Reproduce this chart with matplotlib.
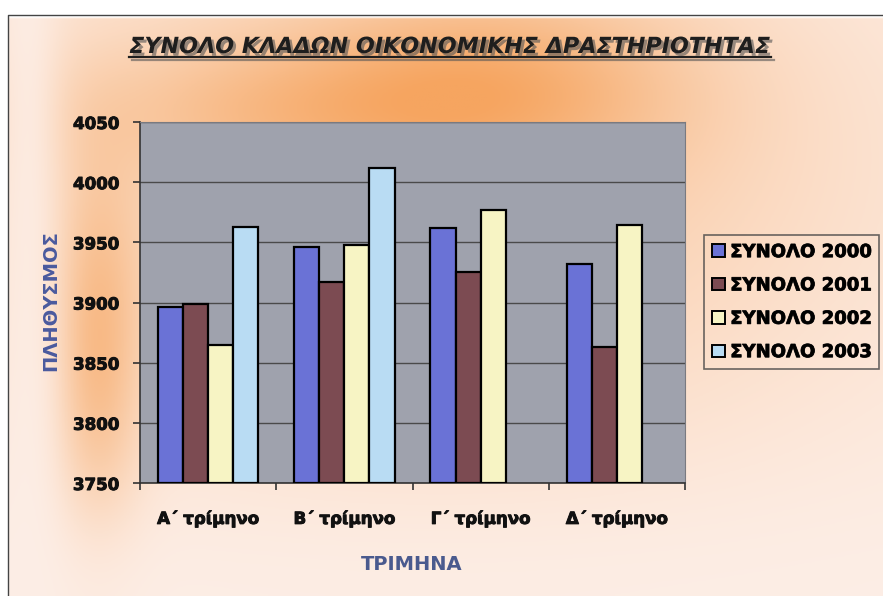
import numpy as np
import matplotlib.pyplot as plt
import matplotlib.patheffects as pe
from matplotlib.patches import Patch
from matplotlib.lines import Line2D
from matplotlib.colors import to_rgb

quarters = ["Α΄ τρίμηνο", "Β΄ τρίμηνο", "Γ΄ τρίμηνο", "Δ΄ τρίμηνο"]
series = ["ΣΥΝΟΛΟ 2000", "ΣΥΝΟΛΟ 2001", "ΣΥΝΟΛΟ 2002", "ΣΥΝΟΛΟ 2003"]
total_2000 = [3896, 3946, 3962, 3932]
total_2001 = [3899, 3917, 3925, 3863]
total_2002 = [3865, 3948, 3977, 3964]
total_2003 = [3963, 4012, np.nan, np.nan]
yticks = [3750, 3800, 3850, 3900, 3950, 4000, 4050]

colors = ["#6a72d6", "#7c4b52", "#f7f4c4", "#b9dcf3"]

plt.rcParams['font.family'] = ['DejaVu Sans']

fig = plt.figure(figsize=(8.83, 5.96), dpi=100)

# warm gradient background
W, H = 300, 200
gx, gy = np.meshgrid(np.linspace(0, 1, W), np.linspace(0, 1, H))
base = np.array(to_rgb("#fdeee6"))
orange = np.array(to_rgb("#f6a560"))
t = 0.45 * np.exp(-(((gx - 0.5) / 0.5) ** 2 + ((gy - 0.3) / 0.45) ** 2))
t += 0.5 * np.exp(-(((gx - 0.56) / 0.22) ** 2 + ((gy - 0.14) / 0.16) ** 2))
t += 0.3 * np.exp(-(((gx - 0.3) / 0.25) ** 2 + ((gy - 0.18) / 0.12) ** 2))
t += 0.55 * np.exp(-(((gx - 0.11) / 0.05) ** 2 + ((gy - 0.6) / 0.3) ** 2))
t *= 1 - 0.8 * np.exp(-((gx - 0.03) / 0.035) ** 2)
t *= 1 - 0.6 * np.exp(-((gy - 1.0) / 0.14) ** 2)
t = np.clip(t, 0, 1)[..., None]
img = base * (1 - t) + orange * t
img[gy < 15 / 596] = 1.0
img[gx < 8 / 883] = 1.0
bg = fig.add_axes([0, 0, 1, 1], zorder=-5)
bg.imshow(img, aspect='auto', extent=[0, 1, 0, 1], origin='upper')
bg.plot([8 / 883, 8 / 883, 1], [0, 1 - 15 / 596, 1 - 15 / 596], color='#444444', lw=1)
bg.set_xlim(0, 1)
bg.set_ylim(0, 1)
bg.axis('off')

ax = fig.add_axes([140 / 883, 1 - 483 / 596, 545 / 883, 361 / 596])
ax.set_facecolor("#9fa2ad")

x = np.arange(len(quarters))
w = 0.184
data = [total_2000, total_2001, total_2002, total_2003]
for i, (vals, c) in enumerate(zip(data, colors)):
    ax.bar(x + (i - 1.5) * w, np.array(vals) - 3750, w, bottom=3750,
           color=c, edgecolor='black', linewidth=1.6, zorder=3)

ax.set_ylim(3750, 4050)
ax.set_xlim(-0.5, 3.5)
ax.set_yticks(yticks)
ax.yaxis.grid(True, color='#4a4a4a', linewidth=1.0, zorder=1)
ax.set_xticks(x)
ax.set_xticklabels(quarters)
ax.set_xticks(np.arange(-0.5, 4, 1), minor=True)
ax.tick_params(axis='x', which='major', length=0, pad=19, labelsize=12)
ax.tick_params(axis='x', which='minor', length=5, width=1.2, color='#333333')
ax.tick_params(axis='y', length=5, width=1.2, color='#333333', pad=10, labelsize=12)
for lab in ax.get_xticklabels() + ax.get_yticklabels():
    lab.set_fontweight('bold')
    lab.set_color('#111111')
    lab.set_path_effects([pe.withStroke(linewidth=0.7, foreground='#111111')])
for side in ['top', 'right']:
    ax.spines[side].set_color('#7a7a80')
for side in ['left', 'bottom']:
    ax.spines[side].set_color('#333333')
    ax.spines[side].set_linewidth(1.2)

fig.text(51 / 883, 1 - 301 / 596, "ΠΛΗΘΥΣΜΟΣ", rotation=90, ha='center', va='center',
         fontsize=14, fontweight='bold', color='#4a5a9e')
fig.text(412 / 883, 1 - 565 / 596, "ΤΡΙΜΗΝΑ", ha='center', va='center',
         fontsize=14, fontweight='bold', color='#4a5a8e')

title = fig.text(450 / 883, 1 - 47 / 596, "ΣΥΝΟΛΟ ΚΛΑΔΩΝ ΟΙΚΟΝΟΜΙΚΗΣ ΔΡΑΣΤΗΡΙΟΤΗΤΑΣ",
                 ha='center', va='center', fontsize=16, fontweight='bold',
                 fontstyle='italic', color='#1e1e1e')
title.set_path_effects([pe.SimplePatchShadow(offset=(2, -2), shadow_rgbFace='#555555', alpha=0.6),
                        pe.Normal()])
fig.canvas.draw()
bb = title.get_window_extent().transformed(fig.transFigure.inverted())
uy = 1 - 57 / 596
fig.add_artist(Line2D([bb.x0, bb.x1], [uy, uy], color='#1e1e1e', lw=1.6,
                      path_effects=[pe.SimpleLineShadow(offset=(2, -2), shadow_color='#555555', alpha=0.6),
                                    pe.Normal()]))

handles = [Patch(facecolor=c, edgecolor='black', linewidth=1.4) for c in colors]
leg = fig.legend(handles, series, loc='upper left', bbox_to_anchor=(704 / 883, 1 - 235 / 596),
                 prop={'weight': 'bold', 'size': 13}, frameon=True, fancybox=False,
                 handlelength=0.7, handleheight=0.7, handletextpad=0.3,
                 labelspacing=0.85, borderpad=0.45, borderaxespad=0)
leg.get_frame().set_facecolor('none')
leg.get_frame().set_edgecolor('#444444')
leg.get_frame().set_linewidth(1.2)
for txt in leg.get_texts():
    txt.set_path_effects([pe.withStroke(linewidth=0.6, foreground='#111111')])

plt.savefig("out.png", dpi=100)
